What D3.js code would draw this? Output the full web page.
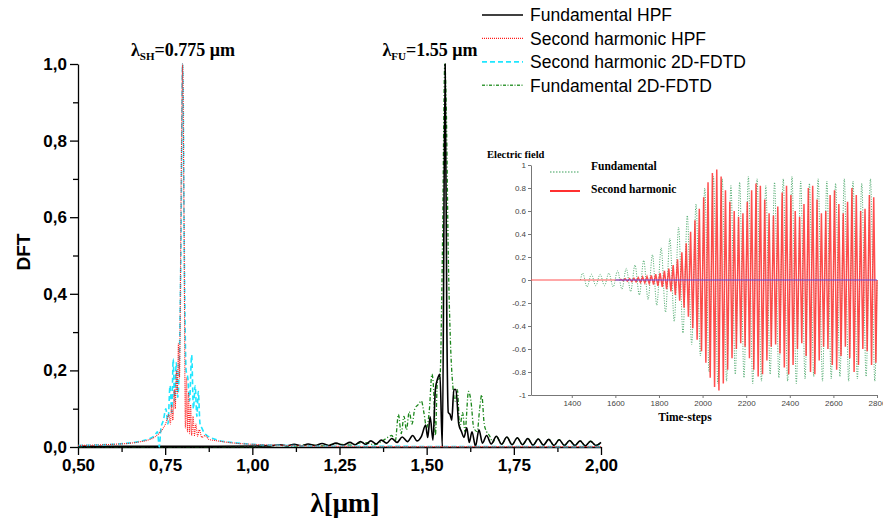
<!DOCTYPE html>
<html>
<head>
<meta charset="utf-8">
<script src="https://d3js.org/d3.v7.min.js"></script>
<style>
  body { margin: 0; background: #fff; }
</style>
</head>
<body>
<div id="my_dataviz"></div>
<script>
    // ---- main spectrum, values ----
    var fundHpfWl = [0.50,0.70,0.90,1.05,1.08,1.10,1.12,1.14,1.16,1.18,1.20,1.22,1.24,1.26,1.28,1.295,1.31,1.325,1.34,1.355,1.37,1.385,1.40,1.415,1.43,1.445,1.46,1.472,1.485,1.497,1.503,1.51,1.518,1.525,1.532,1.538,1.545,1.553,1.558,1.562,1.567,1.572,1.578,1.584,1.592,1.60,1.607,1.615,1.622,1.63,1.64,1.65,1.66,1.672,1.685,1.70,1.715,1.73,1.745,1.76,1.775,1.79,1.805,1.82,1.835,1.85,1.865,1.88,1.895,1.91,1.925,1.94,1.955,1.97,1.985,2.0];
    var fundHpfVal = [0.002,0.002,0.002,0.003,0.006,0.003,0.007,0.003,0.008,0.004,0.009,0.004,0.01,0.005,0.012,0.006,0.014,0.007,0.016,0.008,0.018,0.01,0.022,0.012,0.026,0.014,0.03,0.016,0.028,0.057,0.025,0.079,0.018,0.15,0.18,0.19,0.0,1.0,0.3,0.09,0.085,0.07,0.15,0.15,0.06,0.04,0.025,0.05,0.012,0.04,0.002,0.045,0.01,0.03,0.008,0.028,0.007,0.026,0.006,0.024,0.006,0.022,0.005,0.021,0.005,0.02,0.004,0.019,0.004,0.017,0.004,0.016,0.003,0.015,0.004,0.012];

    var shHpfWl = [0.50,0.55,0.60,0.65,0.68,0.70,0.72,0.735,0.745,0.755,0.76,0.765,0.768,0.772,0.776,0.779,0.782,0.785,0.788,0.791,0.796,0.80,0.804,0.808,0.811,0.814,0.817,0.82,0.823,0.826,0.83,0.834,0.838,0.843,0.848,0.855,0.865,0.875,0.90,0.95,1.00,1.10,1.20,1.50,2.00];
    var shHpfVal = [0.004,0.005,0.007,0.01,0.014,0.018,0.026,0.038,0.05,0.07,0.085,0.06,0.11,0.07,0.15,0.1,0.2,0.14,0.27,0.18,0.7,1.0,0.6,0.05,0.18,0.04,0.14,0.035,0.11,0.03,0.08,0.03,0.06,0.028,0.045,0.025,0.03,0.02,0.016,0.01,0.007,0.004,0.002,0.001,0.001];

    var shFdtdWl = [0.50,0.60,0.68,0.72,0.728,0.733,0.738,0.745,0.752,0.758,0.764,0.769,0.773,0.777,0.782,0.786,0.79,0.795,0.80,0.806,0.81,0.815,0.82,0.826,0.831,0.836,0.841,0.845,0.85,0.855,0.86,0.87,0.88,0.90,0.95,1.00,1.10,1.20,2.00];
    var shFdtdVal = [0.004,0.007,0.015,0.03,0.04,0.0,0.05,0.07,0.1,0.06,0.16,0.09,0.23,0.12,0.22,0.13,0.2,0.5,1.0,0.4,0.2,0.18,0.12,0.24,0.1,0.16,0.08,0.145,0.06,0.05,0.04,0.03,0.025,0.018,0.011,0.007,0.004,0.002,0.001];

    var fundFdtdWl = [0.50,0.80,1.00,1.08,1.12,1.16,1.20,1.24,1.28,1.32,1.35,1.38,1.40,1.41,1.419,1.427,1.435,1.442,1.45,1.458,1.466,1.475,1.485,1.492,1.50,1.508,1.515,1.52,1.525,1.531,1.538,1.545,1.552,1.556,1.562,1.568,1.575,1.582,1.588,1.595,1.603,1.61,1.62,1.627,1.635,1.645,1.652,1.658,1.665,1.672,1.68,1.69,1.70,1.715,1.73,1.745,1.76,1.775,1.79,1.805,1.82,1.835,1.85,1.865,1.88,1.895,1.91,1.925,1.94,1.955,1.97,1.985,2.0];
    var fundFdtdVal = [0.001,0.001,0.001,0.004,0.002,0.006,0.003,0.008,0.005,0.012,0.006,0.02,0.03,0.015,0.085,0.035,0.08,0.045,0.092,0.06,0.1,0.11,0.12,0.09,0.05,0.1,0.19,0.15,0.03,0.175,0.18,0.5,1.0,0.9,0.5,0.28,0.16,0.12,0.15,0.05,0.09,0.04,0.145,0.12,0.05,0.04,0.1,0.136,0.06,0.04,0.03,0.012,0.028,0.007,0.026,0.006,0.024,0.006,0.022,0.005,0.021,0.005,0.02,0.004,0.019,0.004,0.017,0.004,0.016,0.003,0.015,0.004,0.012];

    var xMajor = [0.50,0.75,1.00,1.25,1.50,1.75,2.00];
    var xMinor = [0.625,0.875,1.125,1.375,1.625,1.875];
    var yMajor = [0,0.2,0.4,0.6,0.8,1.0];
    var yMinor = [0.1,0.3,0.5,0.7,0.9];

    // ---- inset: time signal, one peak amplitude per oscillation cycle ----
    var fundCycleT = [1440,1480,1520,1560,1600,1640,1680,1720,1760,1800,1840,1880,1920,1960,2000,2040,2080,2120,2160,2200,2240,2280,2320,2360,2400,2440,2480,2520,2560,2600,2640,2680,2720,2760];
    var fundAmp = [0.06,0.05,0.05,0.06,0.08,0.1,0.13,0.17,0.22,0.28,0.36,0.46,0.56,0.66,0.8,0.9,0.88,0.82,0.85,0.9,0.88,0.82,0.85,0.88,0.9,0.86,0.84,0.88,0.86,0.84,0.88,0.86,0.84,0.88];
    var shCycleT = [1620,1640,1660,1680,1700,1720,1740,1760,1780,1800,1820,1840,1860,1880,1900,1920,1940,1960,1980,2000,2020,2040,2060,2080,2100,2120,2140,2160,2180,2200,2220,2240,2260,2280,2300,2320,2340,2360,2380,2400,2420,2440,2460,2480,2500,2520,2540,2560,2580,2600,2620,2640,2660,2680,2700,2720,2740,2760,2780];
    var shAmp = [0.005,0.01,0.012,0.015,0.02,0.025,0.03,0.04,0.05,0.06,0.08,0.1,0.13,0.18,0.24,0.32,0.42,0.52,0.62,0.72,0.85,0.93,0.96,0.9,0.78,0.68,0.6,0.55,0.58,0.68,0.78,0.84,0.82,0.7,0.58,0.56,0.64,0.76,0.82,0.74,0.6,0.55,0.66,0.8,0.82,0.7,0.58,0.6,0.74,0.78,0.66,0.58,0.68,0.8,0.74,0.6,0.62,0.74,0.72];
    var insetYTicks = [-1,-0.8,-0.6,-0.4,-0.2,0,0.2,0.4,0.6,0.8,1];
    var insetXTicks = [1400,1600,1800,2000,2200,2400,2600,2800];

    var sansB = "'Liberation Sans', Arial, sans-serif";
    var serif = "'Liberation Serif', 'Times New Roman', serif";

    var svg = d3.select("#my_dataviz")
        .append("svg")
        .attr("width", 883)
        .attr("height", 521);

    // scales of the main plot
    var x = d3.scaleLinear().domain([0.5, 2.0]).range([78, 601]);
    var y = d3.scaleLinear().domain([0, 1]).range([447, 64]);

    var comma = function(f) { return function(d) { return f(d).replace(".", ","); }; };

    // X axis
    svg.append("g")
        .attr("transform", "translate(0,447)")
        .call(d3.axisBottom(x).tickValues(xMinor).tickSize(5).tickFormat(""))
        .call(function(g) { g.select(".domain").remove(); });
    var xAxis = svg.append("g")
        .attr("transform", "translate(0,447)")
        .call(d3.axisBottom(x).tickValues(xMajor).tickSize(8).tickSizeOuter(0)
            .tickPadding(4).tickFormat(comma(d3.format(".2f"))));
    xAxis.selectAll("text")
        .attr("font-family", sansB).attr("font-weight", "bold").attr("font-size", 17).attr("fill", "#000");

    // Y axis
    svg.append("g")
        .attr("transform", "translate(78,0)")
        .call(d3.axisLeft(y).tickValues(yMinor).tickSize(5).tickFormat(""))
        .call(function(g) { g.select(".domain").remove(); });
    var yAxis = svg.append("g")
        .attr("transform", "translate(78,0)")
        .call(d3.axisLeft(y).tickValues(yMajor).tickSize(8).tickSizeOuter(0)
            .tickPadding(3).tickFormat(comma(d3.format(".1f"))));
    yAxis.selectAll("text")
        .attr("font-family", sansB).attr("font-weight", "bold").attr("font-size", 17).attr("fill", "#000");

    svg.selectAll(".domain, .tick line").attr("stroke", "#000").attr("stroke-width", 1.3);

    // axis titles
    svg.append("text")
        .attr("transform", "translate(30,252) rotate(-90)")
        .attr("text-anchor", "middle")
        .attr("font-family", sansB).attr("font-weight", "bold").attr("font-size", 19)
        .text("DFT");
    svg.append("text")
        .attr("x", 345).attr("y", 512)
        .attr("text-anchor", "middle")
        .attr("font-family", serif).attr("font-weight", "bold").attr("font-size", 27)
        .text("λ[μm]");

    // spectra
    var line = d3.line()
        .x(function(d) { return x(d[0]); })
        .y(function(d) { return y(d[1]); })
        .curve(d3.curveMonotoneX);

    var series = [
        { wl: fundFdtdWl, val: fundFdtdVal, color: "#1a861a", width: 1.3, dash: "4,2,1,2" },
        { wl: fundHpfWl, val: fundHpfVal, color: "#000", width: 1.6, dash: null },
        { wl: shFdtdWl, val: shFdtdVal, color: "#1fe6ff", width: 1.6, dash: "5,3" },
        { wl: shHpfWl, val: shHpfVal, color: "#ff1a1a", width: 1.1, dash: "1,1" }
    ];
    series.forEach(function(s) {
        svg.append("path")
            .datum(d3.zip(s.wl, s.val))
            .attr("fill", "none")
            .attr("stroke", s.color)
            .attr("stroke-width", s.width)
            .attr("stroke-dasharray", s.dash)
            .attr("stroke-linejoin", "round")
            .attr("d", line);
    });

    // peak annotations
    function lambdaLabel(cx, sub, rest) {
        var t = svg.append("text")
            .attr("x", cx).attr("y", 56)
            .attr("text-anchor", "middle")
            .attr("font-family", serif).attr("font-weight", "bold").attr("font-size", 18);
        t.append("tspan").text("λ");
        t.append("tspan").attr("dy", 4).attr("font-size", 11).text(sub);
        t.append("tspan").attr("dy", -4).text(rest);
    }
    lambdaLabel(183, "SH", "=0.775 μm");
    lambdaLabel(430, "FU", "=1.55 μm");

    // legend
    var legend = [
        { name: "Fundamental HPF", color: "#000", width: 1.3, dash: null },
        { name: "Second harmonic HPF", color: "#ff1a1a", width: 1.1, dash: "1,1" },
        { name: "Second harmonic 2D-FDTD", color: "#1fe6ff", width: 1.8, dash: "5,3" },
        { name: "Fundamental 2D-FDTD", color: "#3a9a3a", width: 1.4, dash: "3,1.5,1,1.5" }
    ];
    legend.forEach(function(l, i) {
        var ly = 15 + i * 23.4;
        svg.append("line")
            .attr("x1", 482).attr("x2", 523).attr("y1", ly).attr("y2", ly)
            .attr("stroke", l.color).attr("stroke-width", l.width)
            .attr("stroke-dasharray", l.dash);
        svg.append("text")
            .attr("x", 530).attr("y", ly + 6.3)
            .attr("font-family", sansB).attr("font-size", 17.5)
            .text(l.name);
    });

    // ---- inset ----
    svg.append("rect")
        .attr("x", 487).attr("y", 142).attr("width", 396).attr("height", 283)
        .attr("fill", "#fff");

    var xi = d3.scaleLinear().domain([1213, 2800]).range([531, 877]);
    var yi = d3.scaleLinear().domain([-1, 1]).range([395, 165]);

    var axL = svg.append("g")
        .attr("transform", "translate(531,0)")
        .call(d3.axisLeft(yi).tickValues(insetYTicks).tickSize(3).tickSizeOuter(0).tickPadding(2)
            .tickFormat(function(d) { return String(+d.toFixed(1)); }));
    var axB = svg.append("g")
        .attr("transform", "translate(0,395)")
        .call(d3.axisBottom(xi).tickValues(insetXTicks).tickSize(3).tickSizeOuter(0).tickPadding(2)
            .tickFormat(d3.format("d")));
    [axL, axB].forEach(function(a) {
        a.selectAll(".domain, .tick line").attr("stroke", "#777").attr("stroke-width", 1);
        a.selectAll("text").attr("font-family", sansB).attr("font-size", 8).attr("fill", "#444");
    });

    // oscillations drawn through the read peaks (+a, -a per cycle)
    function wavePoints(ts, amps) {
        var pts = [[ts[0], 0]];
        ts.forEach(function(t, i) {
            var p = (i < ts.length - 1 ? ts[i + 1] : 2800) - t;
            pts.push([t + p / 4, amps[i]]);
            pts.push([t + 3 * p / 4, -amps[i]]);
        });
        pts.push([2800, 0]);
        return pts;
    }
    var lineI = d3.line()
        .x(function(d) { return xi(d[0]); })
        .y(function(d) { return yi(d[1]); });

    svg.append("path")
        .datum(wavePoints(fundCycleT, fundAmp))
        .attr("fill", "none")
        .attr("stroke", "#4aa86a")
        .attr("stroke-width", 1)
        .attr("stroke-dasharray", "1,1.5")
        .attr("d", lineI.curve(d3.curveMonotoneX));

    svg.append("path")
        .datum([[1213, 0], [shCycleT[0], 0]])
        .attr("fill", "none").attr("stroke", "#ff5050").attr("stroke-width", 1)
        .attr("d", lineI.curve(d3.curveLinear));

    svg.append("path")
        .datum(wavePoints(shCycleT, shAmp))
        .attr("fill", "none")
        .attr("stroke", "#ff3030")
        .attr("stroke-opacity", 0.85)
        .attr("stroke-width", 1.5)
        .attr("d", lineI.curve(d3.curveLinear));

    svg.append("path")
        .datum([[1600, 0], [2800, 0]])
        .attr("fill", "none").attr("stroke", "#5a4ae0").attr("stroke-width", 1)
        .attr("d", lineI);

    // inset labels and legend
    svg.append("text")
        .attr("x", 487).attr("y", 158)
        .attr("font-family", serif).attr("font-weight", "bold").attr("font-size", 10.5)
        .text("Electric field");
    svg.append("text")
        .attr("x", 685).attr("y", 421)
        .attr("text-anchor", "middle")
        .attr("font-family", serif).attr("font-weight", "bold").attr("font-size", 11.5)
        .text("Time-steps");

    svg.append("line")
        .attr("x1", 550).attr("x2", 580).attr("y1", 172).attr("y2", 172)
        .attr("stroke", "#3aa05a").attr("stroke-width", 1.2).attr("stroke-dasharray", "1.5,1.5");
    svg.append("line")
        .attr("x1", 550).attr("x2", 580).attr("y1", 191).attr("y2", 191)
        .attr("stroke", "#ff3030").attr("stroke-width", 2);
    svg.append("text")
        .attr("x", 591).attr("y", 170)
        .attr("font-family", serif).attr("font-weight", "bold").attr("font-size", 11.5)
        .text("Fundamental");
    svg.append("text")
        .attr("x", 591).attr("y", 193)
        .attr("font-family", serif).attr("font-weight", "bold").attr("font-size", 11.5)
        .text("Second harmonic");
</script>
</body>
</html>
